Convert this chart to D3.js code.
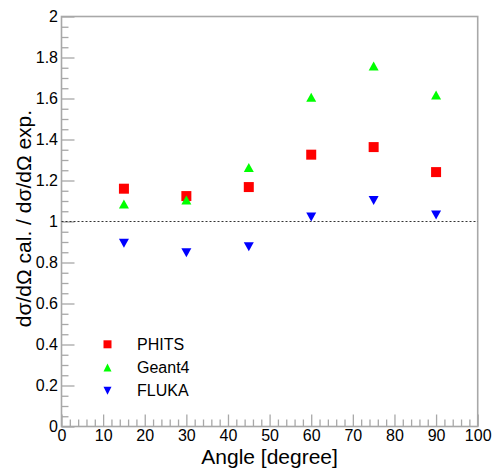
<!DOCTYPE html>
<html>
<head>
<meta charset="utf-8">
<script src="https://cdn.jsdelivr.net/npm/d3@7"></script>
<style>
  html, body { margin: 0; padding: 0; background: #fff; }
  svg { display: block; font-family: "Liberation Sans", Arial, sans-serif; }
</style>
</head>
<body>
<svg id="chart" width="492" height="471"></svg>
<script>
// Scattering angles (degree)
const angles = [15, 30, 45, 60, 75, 90];
// Ratio of calculated to experimental cross section, per code
const phits  = [1.160, 1.124, 1.168, 1.326, 1.363, 1.241];
const geant4 = [1.085, 1.105, 1.264, 1.606, 1.758, 1.617];
const fluka  = [0.894, 0.848, 0.877, 1.022, 1.103, 1.032];
const seriesNames = ["PHITS", "Geant4", "FLUKA"];
const xTicks = [0, 10, 20, 30, 40, 50, 60, 70, 80, 90, 100];
const yTicks = [0, 0.2, 0.4, 0.6, 0.8, 1, 1.2, 1.4, 1.6, 1.8, 2];
const xTitle = "Angle [degree]";
const yTitle = "dσ/dΩ cal. / dσ/dΩ exp.";

const svg = d3.select("#chart");
const plotLeft = 61.5, plotRight = 477.7, plotTop = 16.5, plotBottom = 426.5;
const x = d3.scaleLinear().domain([0, 100]).range([plotLeft, plotRight]);
const y = d3.scaleLinear().domain([0, 2]).range([plotBottom, plotTop]);
const frameColor = "#a8a8a8";

// Frame
svg.append("rect")
  .attr("x", plotLeft).attr("y", plotTop)
  .attr("width", plotRight - plotLeft).attr("height", plotBottom - plotTop)
  .attr("fill", "none").attr("stroke", frameColor).attr("stroke-width", 1.6);

// Minor ticks
const xMinor = d3.range(0, 100.001, 2).filter(v => v % 10 !== 0);
const yMinor = d3.range(0, 2.0001, 0.05).filter(v => Math.abs(v * 5 - Math.round(v * 5)) > 1e-6);

const gx = svg.append("g").attr("transform", `translate(0,${plotBottom})`);
gx.call(d3.axisBottom(x).tickValues(xMinor).tickSize(-7).tickFormat(""));
gx.call(g => g.select(".domain").remove());
const gx2 = svg.append("g").attr("transform", `translate(0,${plotBottom})`);
gx2.call(d3.axisBottom(x).tickValues(xTicks).tickSize(-12).tickPadding(3).tickFormat(d3.format("d")));
gx2.call(g => g.select(".domain").remove());

const gy = svg.append("g").attr("transform", `translate(${plotLeft},0)`);
gy.call(d3.axisLeft(y).tickValues(yMinor).tickSize(-7).tickFormat(""));
gy.call(g => g.select(".domain").remove());
const gy2 = svg.append("g").attr("transform", `translate(${plotLeft},0)`);
gy2.call(d3.axisLeft(y).tickValues(yTicks).tickSize(-13).tickPadding(3.5).tickFormat(d => d3.format("~g")(d)));
gy2.call(g => g.select(".domain").remove());

svg.selectAll(".tick line").attr("stroke", frameColor).attr("stroke-width", 1.3);
svg.selectAll(".tick text")
  .attr("font-family", "Liberation Sans, Arial, sans-serif")
  .attr("font-size", 16).attr("fill", "#000");

// Reference line at ratio 1
svg.append("line")
  .attr("x1", x(0)).attr("x2", x(100))
  .attr("y1", y(1)).attr("y2", y(1))
  .attr("stroke", "#333").attr("stroke-width", 1)
  .attr("stroke-dasharray", "2,2");

// Marker shapes
const square = s => `M${-s/2},${-s/2}h${s}v${s}h${-s}Z`;
const triUp = (w, h) => `M0,${-h/2}L${w/2},${h/2}L${-w/2},${h/2}Z`;
const triDown = (w, h) => `M0,${h/2}L${w/2},${-h/2}L${-w/2},${-h/2}Z`;

const series = [
  { name: seriesNames[0], values: phits,  color: "#ff0000", shape: square(10), legendShape: square(8) },
  { name: seriesNames[1], values: geant4, color: "#00ff00", shape: triUp(10, 9), legendShape: triUp(8, 8) },
  { name: seriesNames[2], values: fluka,  color: "#0000ff", shape: triDown(10, 9), legendShape: triDown(8, 8) }
];

series.forEach(s => {
  svg.append("g").selectAll("path")
    .data(angles.map((a, i) => [a, s.values[i]]))
    .join("path")
    .attr("d", s.shape)
    .attr("transform", d => `translate(${x(d[0])},${y(d[1])})`)
    .attr("fill", s.color);
});

// Legend
const legend = svg.append("g");
series.forEach((s, i) => {
  const ly = 344.3 + i * 23.2;
  legend.append("path").attr("d", s.legendShape)
    .attr("transform", `translate(107.5,${ly})`).attr("fill", s.color);
  legend.append("text").attr("x", 137).attr("y", ly).attr("dy", "0.36em")
    .attr("font-size", 16).attr("fill", "#000").text(s.name);
});

// Axis titles
svg.append("text")
  .attr("x", (plotLeft + plotRight) / 2).attr("y", 464)
  .attr("text-anchor", "middle").attr("font-size", 21).attr("fill", "#000")
  .text(xTitle);
svg.append("text")
  .attr("transform", `translate(31,${(plotTop + plotBottom) / 2 - 3}) rotate(-90)`)
  .attr("text-anchor", "middle").attr("font-size", 21).attr("fill", "#000")
  .text(yTitle);
</script>
</body>
</html>
